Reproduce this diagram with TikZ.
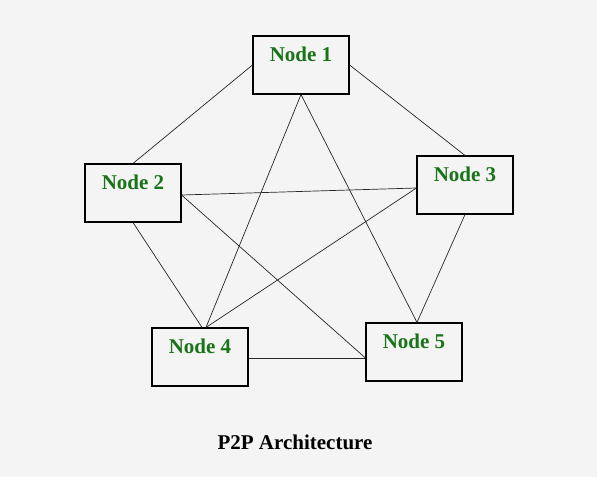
\documentclass[tikz,border=0pt]{standalone}
\usepackage{fontspec}
\setmainfont{Liberation Serif}
\usetikzlibrary{calc}
\definecolor{bg}{HTML}{F4F4F4}
\definecolor{nodegreen}{RGB}{25,115,25}
\begin{document}
\begin{tikzpicture}[x=1pt,y=-1pt,
  peer/.style={draw=black, line width=1.1pt, fill=bg, minimum width=96pt,
    inner sep=0pt, text height=25pt, text depth=33pt,
    font=\fontsize{21}{24}\selectfont\bfseries, text=nodegreen},
  link/.style={draw=black!85, line width=0.7pt}]
\fill[bg] (0,0) rectangle (597,477);
\useasboundingbox (0,0) rectangle (597,477);
\node[peer] (n1) at (301,65) {Node 1};
\node[peer] (n2) at (133,193) {Node 2};
\node[peer] (n3) at (465,185) {Node 3};
\node[peer] (n4) at (200,357) {Node 4};
\node[peer] (n5) at (414,352) {Node 5};
\coordinate (n4t) at ($(n4.north)+(6,0)$);
\coordinate (n4tl) at ($(n4.north)+(2,0)$);
\coordinate (n5t) at ($(n5.north)+(3,0)$);
\coordinate (n5l) at ($(n5.west)+(0,6)$);
\coordinate (n4r) at ($(n4.east)+(0,1)$);
\coordinate (n2r) at ($(n2.east)+(0,2)$);
\coordinate (n3l) at ($(n3.west)+(0,3)$);
\begin{scope}[on background layer/.try]
\end{scope}
\draw[link] (n1.west) -- (n2.north);
\draw[link] (n1.east) -- (n3.north);
\draw[link] (n1.south) -- (n4t);
\draw[link] (n1.south) -- (n5t);
\draw[link] (n2r) -- (n3l);
\draw[link] (n2.south) -- (n4tl);
\draw[link] (n2r) -- (n5l);
\draw[link] (n3l) -- (n4t);
\draw[link] (n3.south) -- (n5t);
\draw[link] (n4r) -- (n5l);
\node[font=\fontsize{21}{24}\selectfont\bfseries, text=black] (title) at (295,442) {P2P Architecture};
\end{tikzpicture}
\end{document}
